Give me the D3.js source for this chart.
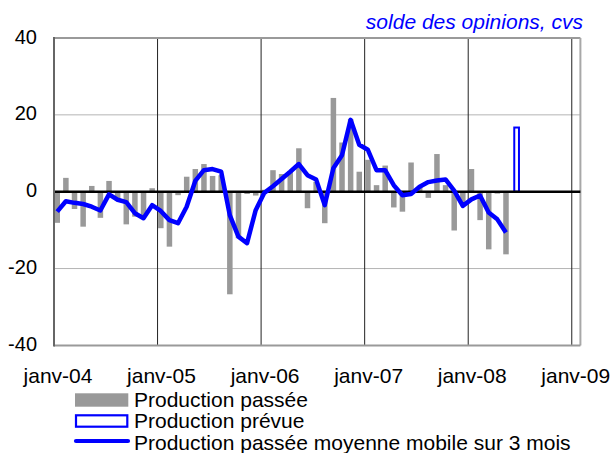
<!DOCTYPE html>
<html>
<head>
<meta charset="utf-8">
<script src="https://cdn.jsdelivr.net/npm/d3@7"></script>
<style>
  body { margin: 0; background: #fff; }
  text { font-family: Arial, "Liberation Sans", sans-serif; fill: #000; }
</style>
</head>
<body>
<script>
// solde des opinions, cvs - monthly from janv-04
var startMonth = new Date(2004, 0, 1);

var passee = [-8.1, 3.6, -4.5, -9.1, 1.5, -6.8, 2.8, -2.0, -8.5, -6.5, -6.5, 0.9,
              -9.5, -14.3, -0.9, 3.9, 5.9, 7.2, 4.1, 4.3, -26.7, -12.1, -0.6, -1.0,
              0.5, 5.6, 4.6, 5.4, 11.3, -4.3, 2.6, -8.2, 24.4, 12.8, 18.9, 5.2,
              8.3, 1.7, 6.8, -4.1, -5.2, 7.6, 1.5, -1.6, 9.8, 1.7, -10.1, -2.7,
              5.9, -7.4, -15.0, -0.5, -16.3];

var moyenne = [-5.2, -2.5, -2.9, -3.2, -3.9, -4.9, -0.7, -2.1, -2.7, -5.6, -6.9, -3.5,
               -5.0, -7.4, -8.2, -3.9, 2.8, 5.6, 5.9, 5.2, -6.1, -11.7, -13.4, -4.8,
               -0.3, 1.4, 3.3, 5.2, 7.2, 4.3, 3.2, -3.5, 6.1, 9.5, 18.7, 12.2,
               10.9, 5.6, 5.6, 1.7, -0.9, -0.6, 1.3, 2.5, 2.9, 3.2, 0.3, -3.7,
               -2.0, -1.0, -5.4, -7.2, -10.6];

var prevueMonths = [new Date(2008, 5, 1)];
var prevueValues = [16.7];

var yTicks = [40, 20, 0, -20, -40];
var xTickLabels = ["janv-04", "janv-05", "janv-06", "janv-07", "janv-08", "janv-09"];
var legendLabels = ["Production passée", "Production prévue", "Production passée moyenne mobile sur 3 mois"];

var W = 613, H = 453;
var margin = {left: 54, right: 580.4, top: 38, bottom: 345.4};

var svg = d3.select("body").append("svg").attr("width", W).attr("height", H);

var x = d3.scaleLinear().domain([0, 61]).range([margin.left, margin.right]);
var y = d3.scaleLinear().domain([-40, 40]).range([margin.bottom, margin.top]);

function idx(d) { return d3.timeMonth.count(startMonth, d); }

// horizontal gridlines
svg.append("g").selectAll("line")
  .data([20, -20]).enter().append("line")
  .attr("x1", margin.left).attr("x2", margin.right)
  .attr("y1", function(d){ return y(d); }).attr("y2", function(d){ return y(d); })
  .attr("stroke", "#b4b4b4").attr("stroke-width", 1);

// vertical gridlines on janv
svg.append("g").selectAll("line")
  .data([12, 24, 36, 48, 60]).enter().append("line")
  .attr("x1", function(d){ return x(d); }).attr("x2", function(d){ return x(d); })
  .attr("y1", margin.top).attr("y2", margin.bottom)
  .attr("stroke", "#222").attr("stroke-width", 1);

// frame
svg.append("line").attr("x1", margin.left).attr("x2", margin.right).attr("y1", margin.top).attr("y2", margin.top)
  .attr("stroke", "#9a9a9a").attr("stroke-width", 1.8);
svg.append("line").attr("x1", margin.right).attr("x2", margin.right).attr("y1", margin.top).attr("y2", margin.bottom)
  .attr("stroke", "#a8a8a8").attr("stroke-width", 2);
svg.append("line").attr("x1", margin.left).attr("x2", margin.right).attr("y1", margin.bottom).attr("y2", margin.bottom)
  .attr("stroke", "#9a9a9a").attr("stroke-width", 2);

// bars
svg.append("g").selectAll("rect")
  .data(passee).enter().append("rect")
  .attr("x", function(d, i){ return x(i) + 0.5; })
  .attr("width", 5.5)
  .attr("y", function(d){ return y(Math.max(0, d)); })
  .attr("height", function(d){ return Math.abs(y(d) - y(0)); })
  .attr("fill", "#999999");

// forecast bar
svg.append("g").selectAll("rect")
  .data(prevueValues).enter().append("rect")
  .attr("x", function(d, i){ return x(idx(prevueMonths[i])) + 2.9; })
  .attr("width", 4.7)
  .attr("y", function(d){ return y(d); })
  .attr("height", function(d){ return y(0) - y(d); })
  .attr("fill", "#fff").attr("stroke", "#0000ff").attr("stroke-width", 2);

// zero line
svg.append("line").attr("x1", margin.left).attr("x2", margin.right).attr("y1", y(0)).attr("y2", y(0))
  .attr("stroke", "#000").attr("stroke-width", 2.5);

// left axis line
svg.append("line").attr("x1", margin.left).attr("x2", margin.left).attr("y1", margin.top - 1).attr("y2", margin.bottom + 1)
  .attr("stroke", "#666").attr("stroke-width", 2);

// moving average
var line = d3.line()
  .x(function(d, i){ return x(i) + 3.2; })
  .y(function(d){ return y(d); });

svg.append("path").datum(moyenne)
  .attr("d", line)
  .attr("fill", "none").attr("stroke", "#0000ff")
  .attr("stroke-width", 4.5).attr("stroke-linejoin", "round");

// y labels
svg.append("g").selectAll("text")
  .data(yTicks).enter().append("text")
  .attr("x", 37).attr("y", function(d){ return y(d) + 5.5; })
  .attr("text-anchor", "end").style("font-size", "20px")
  .text(function(d){ return d; });

// x labels
svg.append("g").selectAll("text")
  .data(xTickLabels).enter().append("text")
  .attr("x", function(d, i){ return x(i * 12) + 4; }).attr("y", 383.3)
  .attr("text-anchor", "middle").style("font-size", "21px")
  .text(function(d){ return d; });

// title
svg.append("text").attr("x", 583).attr("y", 28.5)
  .attr("text-anchor", "end").style("font-size", "21px").style("font-style", "italic")
  .style("fill", "#0000ff")
  .text("solde des opinions, cvs");

// legend
var lg = svg.append("g");
lg.append("rect").attr("x", 75).attr("y", 393.3).attr("width", 53.3).attr("height", 13.4).attr("fill", "#999999");
lg.append("rect").attr("x", 76).attr("y", 415.3).attr("width", 51.3).attr("height", 11.4)
  .attr("fill", "#fff").attr("stroke", "#0000ff").attr("stroke-width", 2.2);
lg.append("line").attr("x1", 76).attr("x2", 128).attr("y1", 441).attr("y2", 441)
  .attr("stroke", "#0000ff").attr("stroke-width", 4.2).attr("stroke-linecap", "round");

lg.selectAll("text").data(legendLabels).enter().append("text")
  .attr("x", 134).attr("y", function(d, i){ return 406.8 + i * 21.6; })
  .style("font-size", "21px")
  .text(function(d){ return d; });
</script>
</body>
</html>
